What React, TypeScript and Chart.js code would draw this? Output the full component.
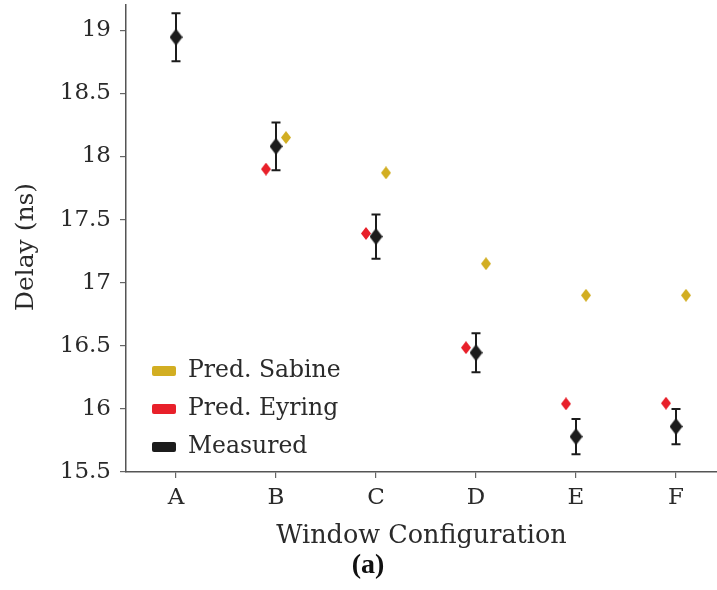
import { useEffect, useRef } from "react";
import { Chart, registerables } from "chart.js";

Chart.register(...registerables);

const categories = ["A", "B", "C", "D", "E", "F"];
const measured = [18.945, 18.08, 17.365, 16.445, 15.78, 15.86];
const measuredErr = [0.19, 0.19, 0.175, 0.155, 0.14, 0.14];
const eyring: (number | null)[] = [null, 17.9, 17.39, 16.485, 16.04, 16.045];
const sabine: (number | null)[] = [null, 18.15, 17.87, 17.15, 16.9, 16.9];
const yTicks = [15.5, 16, 16.5, 17, 17.5, 18, 18.5, 19];
const yTitle = "Delay (ns)";
const xTitle = "Window Configuration";
const caption = "(a)";

const legendItems = [
  { label: "Pred. Sabine", color: "#d2ae22" },
  { label: "Pred. Eyring", color: "#e8202a" },
  { label: "Measured", color: "#1c1c1c" },
];

const SERIF = "'DejaVu Serif', serif";

function diamond(w: number, h: number, color: string): HTMLCanvasElement {
  const c = document.createElement("canvas");
  c.width = w;
  c.height = h;
  const ctx = c.getContext("2d")!;
  ctx.fillStyle = color;
  ctx.beginPath();
  ctx.moveTo(w / 2, 0);
  ctx.lineTo(w, h / 2);
  ctx.lineTo(w / 2, h);
  ctx.lineTo(0, h / 2);
  ctx.closePath();
  ctx.fill();
  return c;
}

const overlayPlugin = {
  id: "overlay",
  afterDatasetsDraw(chart: any) {
    const { ctx } = chart;
    const xs = chart.scales.x;
    const ys = chart.scales.y;
    ctx.save();
    ctx.strokeStyle = "#1c1c1c";
    ctx.lineWidth = 2;
    measured.forEach((v, i) => {
      const px = xs.getPixelForValue(i);
      const top = ys.getPixelForValue(v + measuredErr[i]);
      const bot = ys.getPixelForValue(v - measuredErr[i]);
      ctx.beginPath();
      ctx.moveTo(px, top);
      ctx.lineTo(px, bot);
      ctx.moveTo(px - 4.5, top);
      ctx.lineTo(px + 4.5, top);
      ctx.moveTo(px - 4.5, bot);
      ctx.lineTo(px + 4.5, bot);
      ctx.stroke();
    });
    ctx.restore();
  },
  afterDraw(chart: any) {
    const { ctx } = chart;
    ctx.save();
    ctx.font = `23.5px ${SERIF}`;
    ctx.textBaseline = "middle";
    ctx.textAlign = "left";
    legendItems.forEach((it, i) => {
      const cy = 371 + i * 38;
      ctx.fillStyle = it.color;
      ctx.beginPath();
      (ctx as any).roundRect(152, cy - 5, 24, 10, 2);
      ctx.fill();
      ctx.fillStyle = "#2a2a2a";
      ctx.fillText(it.label, 188, cy);
    });
    // y title
    ctx.save();
    ctx.translate(26, 247);
    ctx.rotate(-Math.PI / 2);
    ctx.font = `25px ${SERIF}`;
    ctx.textAlign = "center";
    ctx.textBaseline = "middle";
    ctx.fillStyle = "#2a2a2a";
    ctx.fillText(yTitle, 0, 0);
    ctx.restore();
    ctx.font = `bold 28px 'Liberation Serif', serif`;
    ctx.textAlign = "center";
    ctx.textBaseline = "middle";
    ctx.fillStyle = "#111";
    ctx.fillText(caption, 368, 566);
    ctx.restore();
  },
};

export default function App() {
  const ref = useRef<HTMLCanvasElement | null>(null);
  useEffect(() => {
    document.body.style.margin = "0";
    const measuredImg = diamond(13, 17, "#1c1c1c");
    const eyringImg = diamond(10, 13, "#e8202a");
    const sabineImg = diamond(10, 13, "#d2ae22");
    const toPts = (arr: (number | null)[], off: number) =>
      arr.map((v, i) => ({ x: i + off, y: v })).filter((p) => p.y !== null);
    const chart = new Chart(ref.current!, {
      type: "scatter",
      data: {
        datasets: [
          { label: "Pred. Eyring", data: toPts(eyring, -0.1) as any, pointStyle: eyringImg as any },
          { label: "Pred. Sabine", data: toPts(sabine, 0.1) as any, pointStyle: sabineImg as any },
          { label: "Measured", data: toPts(measured, 0) as any, pointStyle: measuredImg as any },
        ],
      },
      options: {
        animation: false,
        responsive: false,
        layout: { autoPadding: false, padding: { top: 5, right: 0, left: 0, bottom: 0 } },
        plugins: { legend: { display: false }, tooltip: { enabled: false } },
        scales: {
          x: {
            type: "linear",
            min: -0.5,
            max: 5.41,
            afterFit: (s: any) => {
              s.height = 118;
              s.paddingLeft = 0;
              s.paddingRight = 0;
            },
            afterBuildTicks: (s: any) => {
              s.ticks = categories.map((_, i) => ({ value: i }));
            },
            ticks: {
              callback: (v: any) => categories[Math.round(v)] ?? "",
              font: { family: SERIF, size: 23 },
              color: "#2a2a2a",
              padding: 6,
              maxRotation: 0,
            },
            grid: { display: true, drawOnChartArea: false, tickLength: 6, color: "#666", lineWidth: 1.2 },
            border: { display: true, color: "#555", width: 1.5 },
            title: {
              display: true,
              text: xTitle,
              font: { family: SERIF, size: 25.5 },
              color: "#2a2a2a",
              padding: { top: 0, bottom: 38 },
            },
          },
          y: {
            min: 15.5,
            max: 19.2,
            afterFit: (s: any) => {
              s.width = 126;
              s.paddingTop = 0;
              s.paddingBottom = 0;
            },
            afterBuildTicks: (s: any) => {
              s.ticks = yTicks.map((v) => ({ value: v }));
            },
            ticks: {
              callback: (v: any) => String(v),
              font: { family: SERIF, size: 23 },
              color: "#2a2a2a",
              padding: 9,
            },
            grid: { display: true, drawOnChartArea: false, tickLength: 6, color: "#666", lineWidth: 1.2 },
            border: { display: true, color: "#555", width: 1.5 },
            title: { display: false },
          },
        },
      },
      plugins: [overlayPlugin],
    });
    return () => chart.destroy();
  }, []);
  return (
    <div style={{ position: "fixed", left: 0, top: 0, width: 717, height: 590, background: "#fff" }}>
      <canvas ref={ref} width={717} height={590} />
    </div>
  );
}
